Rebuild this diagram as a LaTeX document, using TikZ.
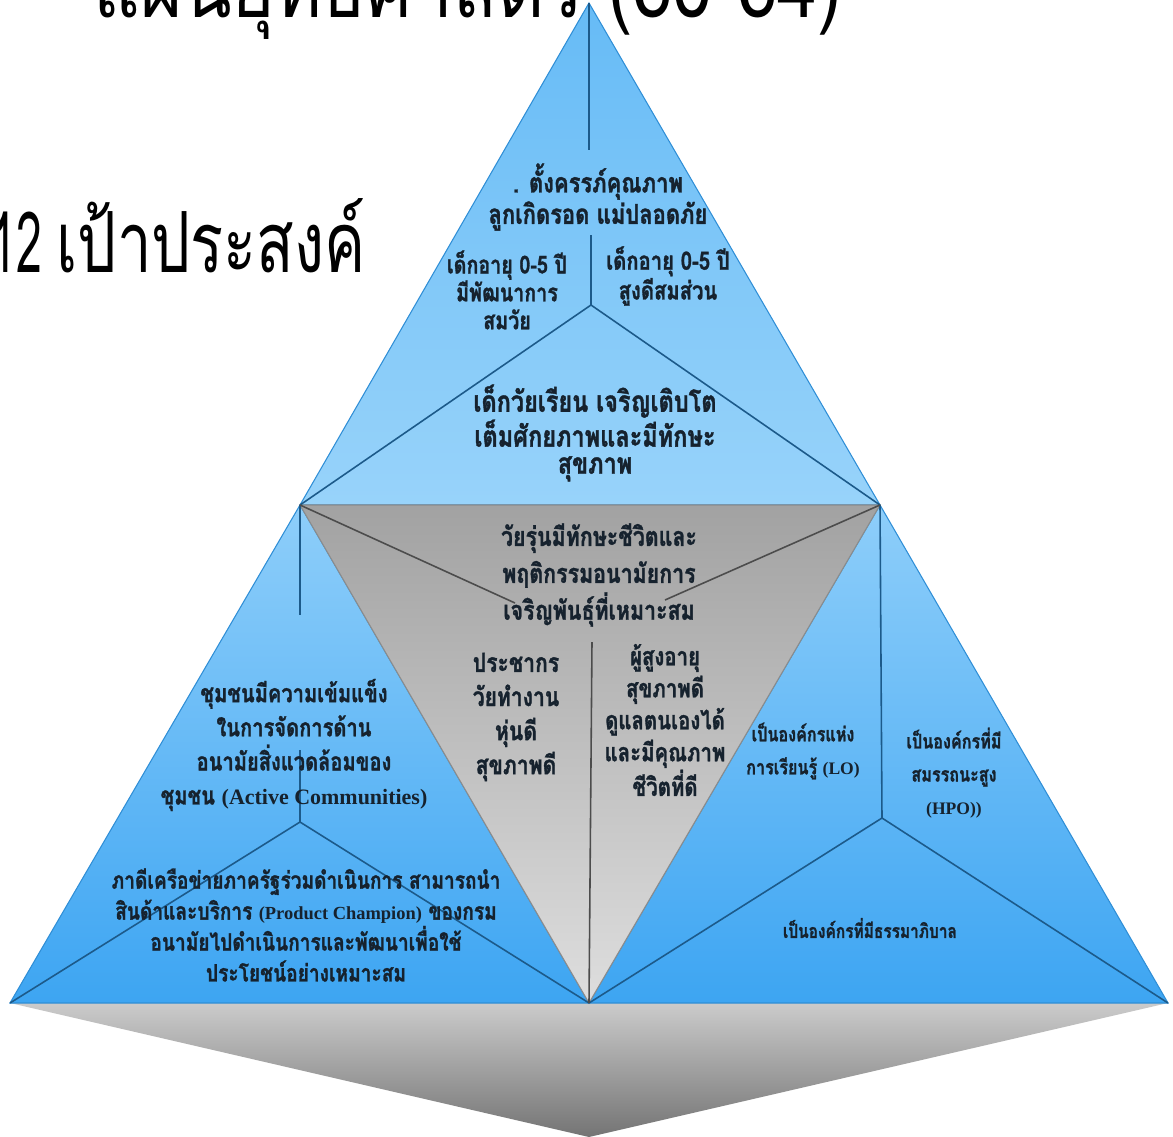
\documentclass[tikz,border=0pt]{standalone}
\usepackage{fontspec}
\newfontfamily\thai[Script=Thai,FakeStretch=0.8,BoldFeatures={FakeBold=1.2}]{Loma}
\newfontfamily\headA[Script=Thai,FakeStretch=0.86]{Loma}
\newfontfamily\headB[Script=Thai,FakeStretch=0.73]{Loma}
\newfontfamily\headC[FakeStretch=0.55]{Loma}
\newfontfamily\tnr{Liberation Serif}
\definecolor{ink}{HTML}{16222E}
\definecolor{edgeblue}{HTML}{2F8ED6}
\definecolor{segblue}{HTML}{1C5A8A}
\definecolor{topA}{HTML}{66BBF6}
\definecolor{topB}{HTML}{98D3FA}
\definecolor{sideA}{HTML}{8ECEFA}
\definecolor{sideB}{HTML}{3DA5F2}
\definecolor{greyA}{HTML}{A2A2A2}
\definecolor{greyB}{HTML}{DEDEDE}
\definecolor{baseA}{HTML}{CBCBCB}
\definecolor{baseB}{HTML}{747474}
\tikzset{
  lbl/.style 2 args={font=\thai\bfseries\fontsize{#1}{#2}\selectfont, text=ink, align=center, inner sep=0pt},
  seg/.style={draw=segblue, line width=0.9pt},
  gseg/.style={draw=black!70, line width=0.9pt},
  face/.style={draw=edgeblue, line width=0.6pt}
}
\newcommand\lat[1]{\tnr\bfseries\fontsize{#1}{#1}\selectfont}
\begin{document}
\begin{tikzpicture}[x=0.2mm,y=-0.2mm]
\useasboundingbox (0,0) rectangle (1173,1137);
\clip (0,0) rectangle (1173,1137);
% corners of the pyramid
\coordinate (A) at (589,3);
\coordinate (L) at (10,1003);
\coordinate (R) at (1168,1003);
\coordinate (ML) at (300,505);
\coordinate (MR) at (880,505);
\coordinate (MB) at (589,1003);
\coordinate (T) at (589,1137);
% centres
\coordinate (ct) at (591,305);
\coordinate (cl) at (300,822);
\coordinate (cr) at (882,818);
\coordinate (cm) at (592,642);

\shade[top color=baseA, bottom color=baseB] (L) -- (R) -- (T) -- cycle;
\shade[face, top color=topA, bottom color=topB] (A) -- (ML) -- (MR) -- cycle;
\shade[face, top color=sideA, bottom color=sideB] (ML) -- (L) -- (MB) -- cycle;
\shade[face, top color=sideA, bottom color=sideB] (MR) -- (MB) -- (R) -- cycle;
\shade[draw=black!45, line width=0.6pt, top color=greyA, bottom color=greyB] (ML) -- (MR) -- (MB) -- cycle;

% top face
\coordinate (t1) at (589,150);
\coordinate (t2) at (591,235);
\draw[seg] (A) -- (t1);
\draw[seg] (t2) -- (ct);
\draw[seg] (ML) -- (ct) -- (MR);
% left face
\coordinate (l1) at (300,615);
\coordinate (l2) at (300,750);
\draw[seg] (ML) -- (l1);
\draw[seg] (l2) -- (cl);
\draw[seg] (L) -- (cl) -- (MB);
% right face
\draw[seg] (MR) -- (cr);
\draw[seg] (MB) -- (cr) -- (R);
% middle face
\coordinate (m1) at (515,603);
\coordinate (m2) at (665,600);
\draw[gseg] (ML) -- (m1);
\draw[gseg] (MR) -- (m2);
\draw[gseg] (cm) -- (MB);

\node[lbl={15.6}{15.9}] (n1) at (598,197) {. ตั้งครรภ์คุณภาพ\\ลูกเกิดรอด แม่ปลอดภัย};
\node[lbl={14}{15.9}] (n2) at (507,290) {เด็กอายุ 0-5 ปี\\มีพัฒนาการ\\สมวัย};
\node[lbl={14.4}{15.9}] (n3) at (668,276) {เด็กอายุ  0-5 ปี\\สูงดีสมส่วน};
\node[lbl={16.7}{15.4}] (n4) at (595,433) {เด็กวัยเรียน  เจริญเติบโต\\เต็มศักยภาพและมีทักษะ\\สุขภาพ};
\node[lbl={15.2}{21}] (n5) at (599,575) {วัยรุ่นมีทักษะชีวิตและ\\พฤติกรรมอนามัยการ\\เจริญพันธุ์ที่เหมาะสม};
\node[lbl={15}{19.4}] (n6) at (516,717) {ประชากร\\วัยทำงาน\\หุ่นดี\\สุขภาพดี};
\node[lbl={14.5}{18.2}] (n7) at (665,720) {ผู้สูงอายุ\\สุขภาพดี\\ดูแลตนเองได้\\และมีคุณภาพ\\ชีวิตที่ดี};
\node[lbl={14.3}{19.4}] (n8) at (294,745) {ชุมชนมีความเข้มแข็ง\\ในการจัดการด้าน\\อนามัยสิ่งแวดล้อมของ\\ชุมชน {\lat{12.5}(Active Communities)}};
\node[lbl={13.6}{17.6}] (n9) at (306,925) {ภาดีเครือข่ายภาครัฐร่วมดำเนินการ สามารถนำ\\สินด้าและบริการ {\lat{10.5}(Product Champion)} ของกรม\\อนามัยไปดำเนินการและพัฒนาเพื่อใช้\\ประโยชน์อย่างเหมาะสม};
\node[lbl={11.5}{18.8}] (n10) at (803,751) {เป็นองค์กรแห่ง\\การเรียนรู้ {\lat{10}(LO)}};
\node[lbl={11.5}{18.8}] (n11) at (954,773) {เป็นองค์กรที่มี\\สมรรถนะสูง\\{\lat{10}(HPO))}};
\node[lbl={11}{18}] (n12) at (870,928) {เป็นองค์กรที่มีธรรมาภิบาล};

% headings
\node[font=\headA\fontsize{48}{48}\selectfont, anchor=base west, inner sep=0pt] (title) at (93,17) {แผนยุทธศาสตร์ (60-64)};
\node[font=\headB\fontsize{48}{48}\selectfont, anchor=base east, inner sep=0pt] (goal) at (366,272) {{\headC 12}\kern-0.07em{} เป้าประสงค์};
\end{tikzpicture}
\end{document}
